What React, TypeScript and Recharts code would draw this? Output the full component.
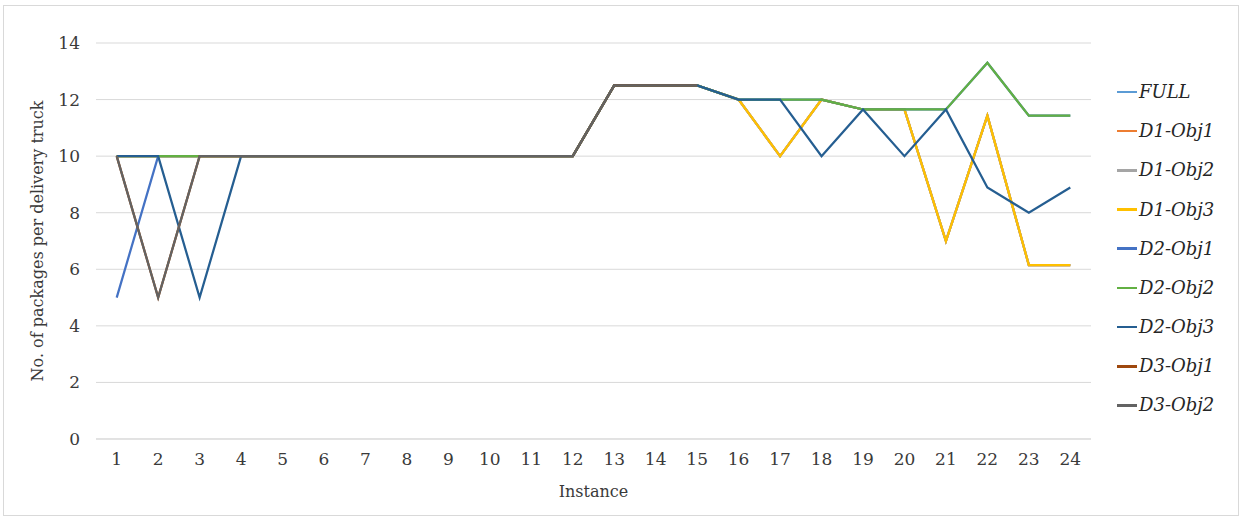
import React from 'react';
import { LineChart, Line, XAxis, YAxis, CartesianGrid, Label } from 'recharts';

const instances = ['1','2','3','4','5','6','7','8','9','10','11','12','13','14','15','16','17','18','19','20','21','22','23','24'];

const full =    [10,10,10,10,10,10,10,10,10,10,10,10,12.5,12.5,12.5,12,10,12,11.65,11.65,7,11.43,6.15,6.15];
const d1Obj1 =  [10,10,10,10,10,10,10,10,10,10,10,10,12.5,12.5,12.5,12,10,12,11.65,11.65,7,11.43,6.15,6.15];
const d1Obj2 =  [10,10,10,10,10,10,10,10,10,10,10,10,12.5,12.5,12.5,12,10,12,11.65,11.65,7,11.43,6.15,6.15];
const d1Obj3 =  [10,10,10,10,10,10,10,10,10,10,10,10,12.5,12.5,12.5,12,10,12,11.65,11.65,7,11.43,6.15,6.15];
const d2Obj1 =  [5,10,10,10,10,10,10,10,10,10,10,10,12.5,12.5,12.5,12,12,12,11.65,11.65,11.65,13.3,11.43,11.43];
const d2Obj2 =  [10,10,10,10,10,10,10,10,10,10,10,10,12.5,12.5,12.5,12,12,12,11.65,11.65,11.65,13.3,11.43,11.43];
const d2Obj3 =  [10,10,5,10,10,10,10,10,10,10,10,10,12.5,12.5,12.5,12,12,10,11.65,10,11.65,8.89,8,8.89];
const d3Obj1 =  [10,5,10,10,10,10,10,10,10,10,10,10,12.5,12.5,12.5,null,null,null,null,null,null,null,null,null];
const d3Obj2 =  [10,5,10,10,10,10,10,10,10,10,10,10,12.5,12.5,12.5,null,null,null,null,null,null,null,null,null];

const yTicks = [0, 2, 4, 6, 8, 10, 12, 14];

const seriesNames = ['FULL','D1-Obj1','D1-Obj2','D1-Obj3','D2-Obj1','D2-Obj2','D2-Obj3','D3-Obj1','D3-Obj2'];
const seriesValues = [full, d1Obj1, d1Obj2, d1Obj3, d2Obj1, d2Obj2, d2Obj3, d3Obj1, d3Obj2];
const seriesColors = ['#5B9BD5','#ED7D31','#A5A5A5','#FFC000','#4472C4','#62B043','#255E91','#9E480E','#636363'];

const data = instances.map((inst, i) => {
  const row: Record<string, any> = { instance: inst };
  seriesNames.forEach((name, s) => { row[name] = seriesValues[s][i]; });
  return row;
});

const FONT = '"DejaVu Serif", serif';
const TEXT = '#3a3a3a';

export default function App() {
  return (
    <div style={{ position: 'absolute', left: 0, top: 0, width: 1246, height: 522, background: '#fff' }}>
      <div style={{ position: 'absolute', left: 3, top: 5, width: 1236, height: 511, border: '1px solid #d9d9d9', boxSizing: 'border-box' }} />
      <div style={{ position: 'absolute', left: 0, top: 0 }}>
        <LineChart width={1246} height={522} data={data} margin={{ top: 43, right: 155, bottom: 0, left: 0 }}>
          <CartesianGrid horizontal={true} vertical={false} stroke="#d9d9d9" strokeWidth={1} />
          <XAxis
            dataKey="instance"
            height={83}
            padding={{ left: 20.7, right: 20.7 }}
            tickLine={false}
            tickSize={0}
            tickMargin={14}
            axisLine={{ stroke: '#d9d9d9' }}
            tick={{ fill: TEXT, fontFamily: FONT, fontSize: 17 }}
            interval={0}
          >
            <Label
              content={(props: any) => {
                const vb = props.viewBox || {};
                return (
                  <text x={vb.x + vb.width / 2} y={vb.y + 58} textAnchor="middle" fill={TEXT} fontFamily={FONT} fontSize={16}>
                    Instance
                  </text>
                );
              }}
            />
          </XAxis>
          <YAxis
            width={96}
            domain={[0, 14]}
            ticks={yTicks}
            interval={0}
            tickLine={false}
            tickSize={0}
            tickMargin={16}
            axisLine={false}
            tick={{ fill: TEXT, fontFamily: FONT, fontSize: 17 }}
          >
            <Label
              content={(props: any) => {
                const vb = props.viewBox || {};
                const cx = vb.x + 37;
                const cy = vb.y + vb.height / 2;
                return (
                  <text x={cx} y={cy} transform={`rotate(-90 ${cx} ${cy})`} textAnchor="middle" dominantBaseline="central" fill={TEXT} fontFamily={FONT} fontSize={16}>
                    No. of packages per delivery truck
                  </text>
                );
              }}
            />
          </YAxis>
          {seriesNames.map((name, s) => (
            <Line
              key={name}
              type="linear"
              dataKey={name}
              stroke={seriesColors[s]}
              strokeWidth={2.25}
              dot={false}
              activeDot={false}
              isAnimationActive={false}
            />
          ))}
        </LineChart>
      </div>
      <div style={{ position: 'absolute', left: 1117, top: 72.4 }}>
        {seriesNames.map((name, s) => (
          <div key={name} style={{ height: 39.2, display: 'flex', alignItems: 'center' }}>
            <div style={{ width: 20, height: 2.5, background: seriesColors[s], marginRight: 2 }} />
            <span style={{ fontFamily: FONT, fontStyle: 'italic', fontSize: 18, color: '#262626', lineHeight: '20px' }}>{name}</span>
          </div>
        ))}
      </div>
    </div>
  );
}
